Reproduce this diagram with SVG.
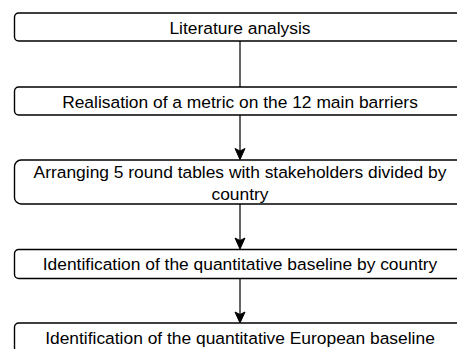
<svg xmlns="http://www.w3.org/2000/svg" width="457" height="349" viewBox="0 0 457 349">
  <style>
    .box { fill: #ffffff; stroke: #000000; stroke-width: 1.4; }
    .lbl { font-family: "Liberation Sans", Arial, Helvetica, sans-serif; font-size: 17.4px; fill: #000000; text-anchor: middle; }
    .edge { fill: none; stroke: #333333; stroke-width: 1.5; }
    .head { fill: #000000; stroke: #000000; stroke-width: 1; stroke-linejoin: miter; }
  </style>
  <defs>
    <path id="arrowhead" class="head" d="M0,0 L-5,-11 L0,-8.5 L5,-11 Z"/>
  </defs>
  <rect x="0" y="0" width="457" height="349" fill="#ffffff"/>

  <g id="connectors">
    <path class="edge" d="M240,41 L240,87"/>
    <path class="edge" d="M240,115 L240,152"/>
    <use href="#arrowhead" x="240" y="159.5"/>
    <path class="edge" d="M240,204 L240,242"/>
    <use href="#arrowhead" x="240" y="249"/>
    <path class="edge" d="M240,279 L240,316"/>
    <use href="#arrowhead" x="240" y="323"/>
  </g>

  <g id="literature-analysis">
    <rect class="box" x="14.5" y="13" width="451" height="28" rx="4.2"/>
    <text class="lbl" x="240" y="33.5">Literature analysis</text>
  </g>

  <g id="metric-realisation">
    <rect class="box" x="14.5" y="87" width="451" height="28" rx="4.2"/>
    <text class="lbl" x="240" y="107.5">Realisation of a metric on the 12 main barriers</text>
  </g>

  <g id="round-tables">
    <rect class="box" x="14.5" y="160" width="451" height="44" rx="6.6"/>
    <text class="lbl" x="240" y="178">Arranging 5 round tables with stakeholders divided by</text>
    <text class="lbl" x="240" y="199.5">country</text>
  </g>

  <g id="baseline-by-country">
    <rect class="box" x="14.5" y="249.5" width="451" height="29" rx="4.3"/>
    <text class="lbl" x="240" y="270">Identification of the quantitative baseline by country</text>
  </g>

  <g id="european-baseline">
    <rect class="box" x="14.5" y="323" width="451" height="29" rx="4.3"/>
    <text class="lbl" x="240" y="343.5">Identification of the quantitative European baseline</text>
  </g>
</svg>
